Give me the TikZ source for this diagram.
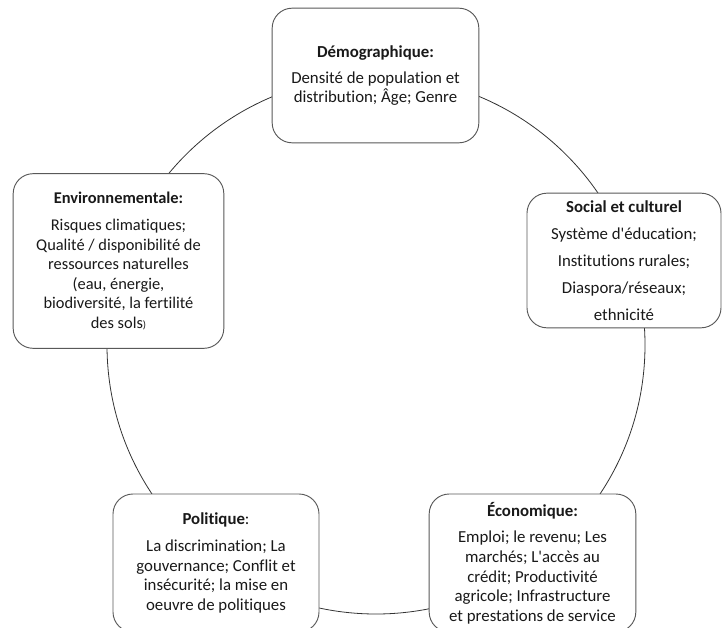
\documentclass[tikz,border=0pt]{standalone}
\usepackage{fontspec}
\setmainfont{Carlito}[Ligatures=NoCommon]
\begin{document}
\begin{tikzpicture}[x=0.75pt,y=-0.75pt,
  box/.style={draw=black!65, line width=0.7pt, fill=white, rounded corners=15pt,
    align=center, inner sep=0pt, font=\fontsize{12.6pt}{14.7pt}\selectfont, text=black!90},
  ring/.style={draw=black!80, line width=0.6pt}]
\useasboundingbox (0,0) rectangle (722,628);
\coordinate (centre) at (376,345);
\draw[ring] (centre) circle [radius=201.75pt];
\node[box, minimum width=155pt, minimum height=101pt] (dem) at (375.5,75.5)
  {\textbf{Démographique:}\\[5pt]Densité de population et\\distribution; Âge; Genre};
\node[box, minimum width=158pt, minimum height=131pt, font=\fontsize{12.3pt}{14.7pt}\selectfont] (env) at (118.5,261)
  {\textbf{Environnementale:}\\[5.5pt]Risques climatiques;\\Qualité / disponibilité de\\ressources naturelles\\(eau, énergie,\\biodiversité, la fertilité\\des sols{\footnotesize)}};
\node[box, minimum width=145.5pt, minimum height=101pt] (soc) at (624,260.5)
  {\textbf{Social et culturel}\\[5.5pt]Système d\textquotesingle éducation;\\[5.5pt]Institutions rurales;\\[5.5pt]Diaspora/réseaux;\\[5.5pt]ethnicité};
\node[box, minimum width=154.5pt, minimum height=103.5pt] (pol) at (216,563)
  {\textbf{Politique}:\\[5.5pt]La discrimination; La\\gouvernance; Conflit et\\insécurité; la mise en\\oeuvre de politiques};
\node[box, minimum width=155pt, minimum height=103.5pt] (eco) at (532.5,563)
  {\textbf{Économique:}\\[5.5pt]Emploi; le revenu; Les\\marchés; L\textquotesingle accès au\\crédit; Productivité\\agricole; Infrastructure\\et prestations de service};
\end{tikzpicture}
\end{document}
